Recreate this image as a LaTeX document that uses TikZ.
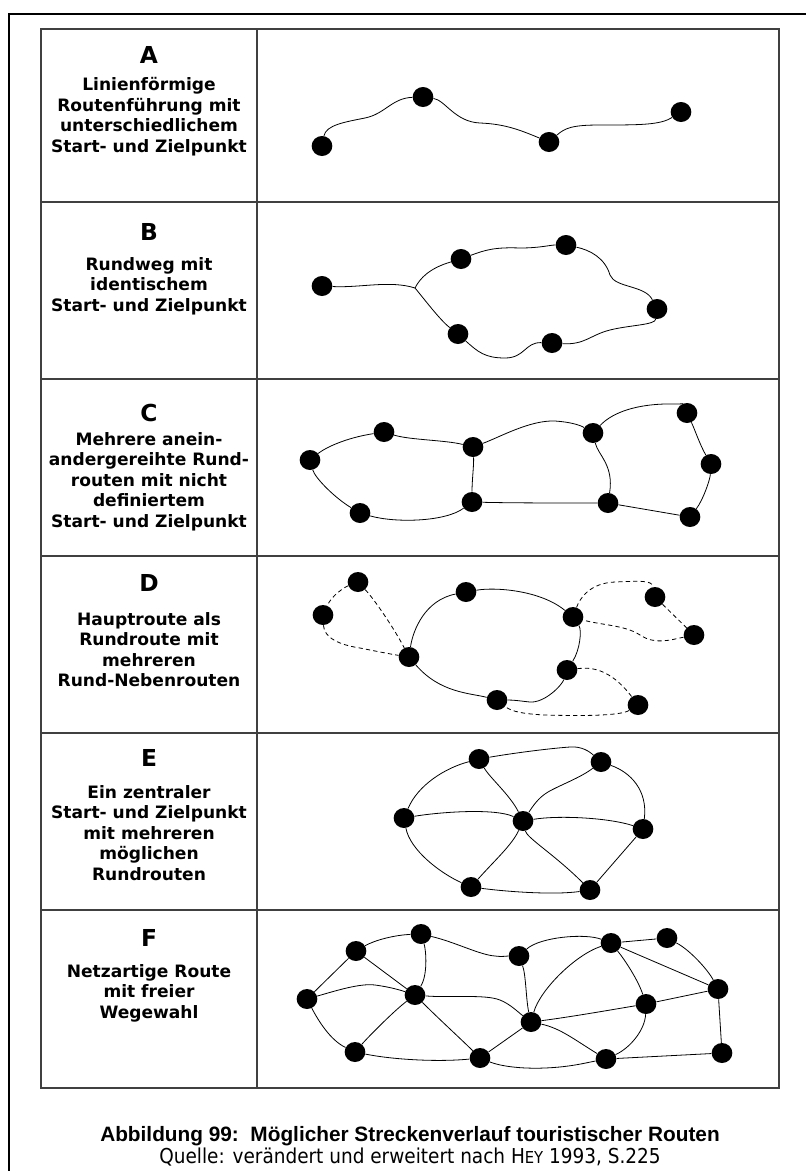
\documentclass[tikz,border=0pt]{standalone}
\usepackage{fontspec}
\usetikzlibrary{shapes.geometric}
\newfontfamily\tahfont{DejaVu Sans}
\newfontfamily\quellfont{DejaVu Sans Condensed}
\newfontfamily\capfont{Liberation Sans}

\begin{document}
\begin{tikzpicture}[x=0.75pt,y=0.75pt,yscale=-1,xscale=1,
  halt/.style={ellipse,fill=black,draw=none,minimum width=15.5pt,minimum height=15pt,inner sep=0pt},
  weg/.style={line width=0.6pt},
  nebenweg/.style={line width=0.6pt,dash pattern=on 3.2pt off 2.4pt},
  letter/.style={font=\tahfont\bfseries\fontsize{17.5}{18}\selectfont,inner sep=0pt},
  lbl/.style={font=\tahfont\bfseries\fontsize{12.8}{15.4}\selectfont,align=center,anchor=north,inner sep=0pt}]
\useasboundingbox (0,0) rectangle (806,1171);

%Frame
\draw [line width=2.2pt] (806,14) -- (9,14) -- (9,1171) ;
%Table
\draw [line width=0.9pt,color=black!75] (41,29) rectangle (779,1088) ;
\draw [line width=0.9pt,color=black!75] (257,29) -- (257,1088) ;
\foreach \y in {202,379,556,733,910}
  \draw [line width=0.9pt,color=black!75] (41,\y) -- (779,\y) ;

% Text Node
\node [letter] (ta) at (149,55) {A};
\node [lbl] (la) at (149,77) {Linienförmige\\Routenführung mit\\unterschiedlichem\\Start- und Zielpunkt};
\node [letter] (tb) at (149,232) {B};
\node [lbl] (lb) at (149,257) {Rundweg mit\\identischem\\Start- und Zielpunkt};
\node [letter] (tc) at (149,413) {C};
\node [lbl] (lc) at (149,432) {Mehrere anein-\\andergereihte Rund-\\routen mit nicht\\definiertem\\Start- und Zielpunkt};
\node [letter] (td) at (149,583) {D};
\node [lbl] (ld) at (149,612) {Hauptroute als\\Rundroute mit\\mehreren\\Rund-Nebenrouten};
\node [letter] (te) at (149,758) {E};
\node [lbl] (le) at (149,785) {Ein zentraler\\Start- und Zielpunkt\\mit mehreren\\möglichen\\Rundrouten};
\node [letter] (tf) at (149,938) {F};
\node [lbl] (lf) at (149,964) {Netzartige Route\\mit freier\\Wegewahl};

%Route A
\node [halt] (a1) at (322,146) {};
\node [halt] (a2) at (423,97) {};
\node [halt] (a3) at (549,142) {};
\node [halt] (a4) at (681,112) {};
\draw [weg] (a1) .. controls (326,125) and (345,122) .. (365,118) .. controls (385,114) and (392,98) .. (a2) ;
\draw [weg] (a2) .. controls (445,100) and (455,122) .. (480,123) .. controls (505,124) and (520,130) .. (a3) ;
\draw [weg] (a3) .. controls (565,128) and (572,125) .. (600,125) .. controls (640,125) and (660,125) .. (a4) ;

%Route B
\node [halt] (b1) at (322,286) {};
\node [halt] (b2) at (461,259) {};
\node [halt] (b3) at (566,245) {};
\node [halt] (b4) at (657,309) {};
\node [halt] (b5) at (458,334) {};
\node [halt] (b6) at (552,343) {};
\coordinate (bj) at (415,288) ;
\draw [weg] (b1) .. controls (360,288) and (390,280) .. (bj) ;
\draw [weg] (bj) .. controls (420,278) and (430,268) .. (b2) ;
\draw [weg] (b2) .. controls (485,250) and (495,247) .. (520,248) .. controls (540,248) and (550,245) .. (b3) ;
\draw [weg] (b3) .. controls (590,250) and (605,258) .. (610,275) .. controls (615,288) and (645,285) .. (b4) ;
\draw [weg] (b4) .. controls (655,325) and (630,325) .. (610,330) .. controls (590,335) and (585,345) .. (b6) ;
\draw [weg] (b6) .. controls (525,342) and (525,358) .. (505,358) .. controls (485,358) and (478,352) .. (b5) ;
\draw [weg] (b5) .. controls (440,320) and (425,300) .. (bj) ;

%Route C
\node [halt] (c1) at (310,460) {};
\node [halt] (c2) at (384,432) {};
\node [halt] (c3) at (473,447) {};
\node [halt] (c4) at (593,433) {};
\node [halt] (c5) at (687,413) {};
\node [halt] (c6) at (711,464) {};
\node [halt] (c7) at (360,513) {};
\node [halt] (c8) at (472,502) {};
\node [halt] (c9) at (608,503) {};
\node [halt] (c10) at (690,517) {};
\draw [weg] (c1) .. controls (325,448) and (345,438) .. (c2) ;
\draw [weg] (c2) .. controls (410,440) and (445,440) .. (c3) ;
\draw [weg] (c3) .. controls (500,437) and (530,420) .. (555,421) .. controls (570,422) and (580,425) .. (c4) ;
\draw [weg] (c4) .. controls (610,415) and (630,405) .. (665,404) .. controls (678,404) and (683,404) .. (c5) ;
\draw [weg] (c5) .. controls (695,430) and (700,445) .. (c6) ;
\draw [weg] (c6) .. controls (710,480) and (703,500) .. (c10) ;
\draw [weg] (c1) .. controls (315,478) and (335,498) .. (c7) ;
\draw [weg] (c7) .. controls (395,523) and (445,522) .. (c8) ;
\draw [weg] (c3) .. controls (474,465) and (472,480) .. (c8) ;
\draw [weg] (c4) .. controls (598,455) and (614,465) .. (c9) ;
\draw [weg] (c8) .. controls (510,503) and (560,503) .. (c9) ;
\draw [weg] (c9) -- (c10) ;

%Route D
\node [halt] (d1) at (358,582) {};
\node [halt] (d2) at (323,615) {};
\node [halt] (d3) at (466,592) {};
\node [halt] (d4) at (573,617) {};
\node [halt] (d5) at (409,657) {};
\node [halt] (d6) at (567,670) {};
\node [halt] (d7) at (497,700) {};
\node [halt] (d8) at (655,597) {};
\node [halt] (d9) at (694,635) {};
\node [halt] (d10) at (638,705) {};
\draw [weg] (d5) .. controls (413,630) and (425,600) .. (d3) ;
\draw [weg] (d3) .. controls (495,587) and (540,590) .. (d4) ;
\draw [weg] (d4) .. controls (582,630) and (580,650) .. (d6) ;
\draw [weg] (d6) .. controls (562,685) and (545,703) .. (530,702) .. controls (520,701) and (515,700) .. (d7) ;
\draw [weg] (d7) .. controls (470,693) and (440,693) .. (d5) ;
\draw [nebenweg] (d1) .. controls (345,587) and (332,595) .. (d2) ;
\draw [nebenweg] (d1) .. controls (375,600) and (395,630) .. (d5) ;
\draw [nebenweg] (d2) .. controls (324,638) and (340,645) .. (360,648) .. controls (375,651) and (390,654) .. (d5) ;
\draw [nebenweg] (d4) .. controls (580,598) and (590,583) .. (615,582) .. controls (640,581) and (652,580) .. (d8) ;
\draw [nebenweg] (d8) -- (d9) ;
\draw [nebenweg] (d9) .. controls (670,640) and (655,645) .. (640,635) .. controls (625,625) and (600,625) .. (d4) ;
\draw [nebenweg] (d6) .. controls (590,667) and (610,668) .. (d10) ;
\draw [nebenweg] (d10) .. controls (620,716) and (580,716) .. (545,715) .. controls (525,714) and (512,712) .. (d7) ;

%Route E
\node [halt] (e1) at (479,759) {};
\node [halt] (e2) at (601,762) {};
\node [halt] (e3) at (404,818) {};
\node [halt] (e4) at (523,821) {};
\node [halt] (e5) at (643,829) {};
\node [halt] (e6) at (471,887) {};
\node [halt] (e7) at (590,890) {};
\draw [weg] (e1) .. controls (520,752) and (555,748) .. (570,747) .. controls (582,746) and (590,752) .. (e2) ;
\draw [weg] (e1) .. controls (445,768) and (418,785) .. (e3) ;
\draw [weg] (e1) .. controls (490,778) and (510,795) .. (e4) ;
\draw [weg] (e2) .. controls (580,778) and (560,785) .. (548,792) .. controls (538,798) and (533,806) .. (e4) ;
\draw [weg] (e2) .. controls (630,772) and (648,790) .. (e5) ;
\draw [weg] (e3) .. controls (440,812) and (495,808) .. (e4) ;
\draw [weg] (e3) .. controls (410,850) and (440,873) .. (e6) ;
\draw [weg] (e4) .. controls (560,815) and (610,818) .. (e5) ;
\draw [weg] (e4) .. controls (512,845) and (495,860) .. (e6) ;
\draw [weg] (e4) .. controls (527,838) and (555,855) .. (e7) ;
\draw [weg] (e5) -- (e7) ;
\draw [weg] (e6) .. controls (510,892) and (555,895) .. (e7) ;

%Route F
\node [halt] (f1) at (307,999) {};
\node [halt] (f2) at (356,951) {};
\node [halt] (f3) at (421,934) {};
\node [halt] (f4) at (415,995) {};
\node [halt] (f5) at (355,1052) {};
\node [halt] (f6) at (480,1058) {};
\node [halt] (f7) at (519,956) {};
\node [halt] (f8) at (531,1022) {};
\node [halt] (f9) at (611,943) {};
\node [halt] (f10) at (667,938) {};
\node [halt] (f11) at (646,1004) {};
\node [halt] (f12) at (718,989) {};
\node [halt] (f13) at (606,1059) {};
\node [halt] (f14) at (722,1053) {};
\draw [weg] (f1) -- (f2) ;
\draw [weg] (f2) .. controls (375,940) and (395,935) .. (f3) ;
\draw [weg] (f1) .. controls (335,991) and (360,983) .. (375,985) .. controls (390,987) and (400,990) .. (f4) ;
\draw [weg] (f1) .. controls (318,1020) and (330,1040) .. (f5) ;
\draw [weg] (f2) -- (f4) ;
\draw [weg] (f3) .. controls (426,950) and (428,975) .. (f4) ;
\draw [weg] (f3) .. controls (455,942) and (480,955) .. (495,956) .. controls (503,957) and (505,956) .. (f7) ;
\draw [weg] (f4) .. controls (395,1010) and (370,1035) .. (f5) ;
\draw [weg] (f4) .. controls (450,998) and (485,994) .. (500,1000) .. controls (510,1004) and (518,1012) .. (f8) ;
\draw [weg] (f4) .. controls (440,1020) and (462,1040) .. (f6) ;
\draw [weg] (f5) .. controls (395,1060) and (440,1062) .. (f6) ;
\draw [weg] (f6) -- (f8) ;
\draw [weg] (f6) .. controls (500,1066) and (520,1069) .. (545,1068) .. controls (570,1067) and (585,1063) .. (f13) ;
\draw [weg] (f7) .. controls (526,975) and (526,1000) .. (f8) ;
\draw [weg] (f7) .. controls (540,937) and (585,933) .. (f9) ;
\draw [weg] (f8) .. controls (540,990) and (575,955) .. (f9) ;
\draw [weg] (f8) .. controls (570,1017) and (610,1010) .. (f11) ;
\draw [weg] (f8) .. controls (560,1028) and (575,1040) .. (f13) ;
\draw [weg] (f9) -- (f10) ;
\draw [weg] (f9) .. controls (625,960) and (638,980) .. (f11) ;
\draw [weg] (f9) -- (f12) ;
\draw [weg] (f10) .. controls (690,950) and (708,970) .. (f12) ;
\draw [weg] (f11) -- (f12) ;
\draw [weg] (f11) .. controls (645,1030) and (630,1048) .. (f13) ;
\draw [weg] (f12) -- (f14) ;
\draw [weg] (f13) -- (f14) ;

% Text Node
\node [font=\capfont\bfseries\fontsize{15.6}{17}\selectfont,inner sep=0pt] (cap) at (410,1136) {Abbildung 99:\ \ Möglicher Streckenverlauf touristischer Routen};
\node [font=\quellfont\fontsize{15.4}{17}\selectfont,inner sep=0pt] (src) at (410,1157) {Quelle: verändert und erweitert nach H{\fontsize{12.3}{13}\selectfont EY} 1993, S.225};

\end{tikzpicture}
\end{document}
